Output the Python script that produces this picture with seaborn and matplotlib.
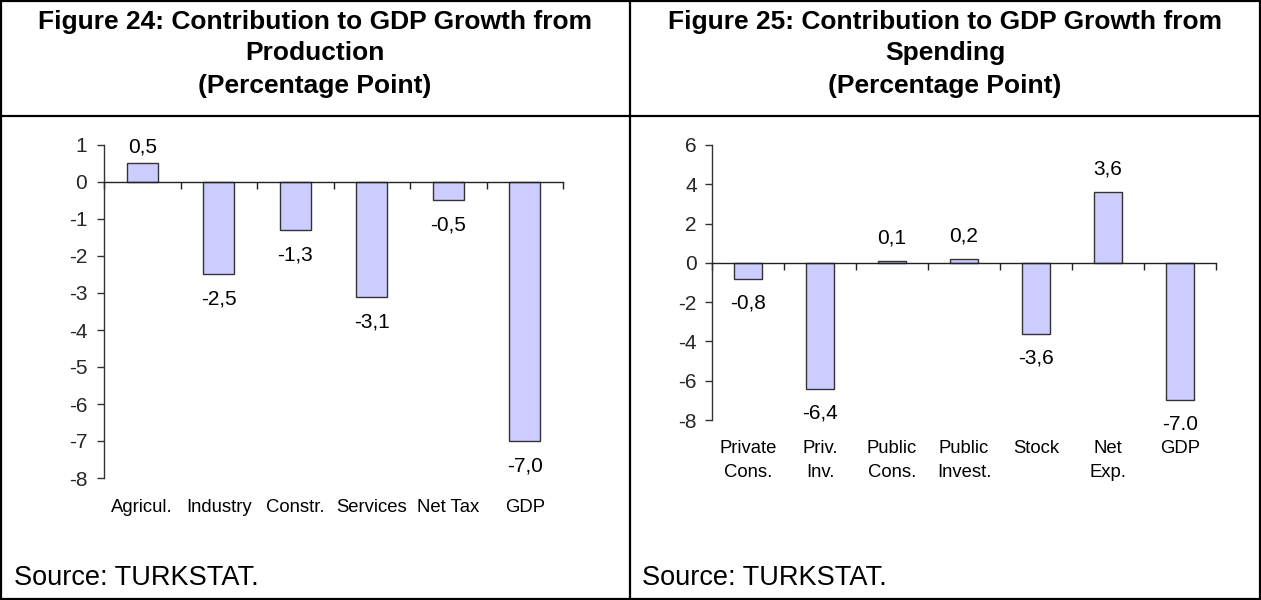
import numpy as np
import matplotlib
matplotlib.use("Agg")
import matplotlib.pyplot as plt
import matplotlib.transforms as mtransforms
from matplotlib.lines import Line2D
import seaborn as sns

# ---------------- data ----------------
prod_categories = ["Agricul.", "Industry", "Constr.", "Services", "Net Tax", "GDP"]
prod_values = [0.5, -2.5, -1.3, -3.1, -0.5, -7.0]
prod_labels = ["0,5", "-2,5", "-1,3", "-3,1", "-0,5", "-7,0"]
prod_yticks = [1, 0, -1, -2, -3, -4, -5, -6, -7, -8]

spend_categories = ["Private\nCons.", "Priv.\nInv.", "Public\nCons.", "Public\nInvest.",
                    "Stock", "Net\nExp.", "GDP"]
spend_values = [-0.8, -6.4, 0.1, 0.2, -3.6, 3.6, -7.0]
spend_labels = ["-0,8", "-6,4", "0,1", "0,2", "-3,6", "3,6", "-7.0"]
spend_yticks = [6, 4, 2, 0, -2, -4, -6, -8]

title_left = ["Figure 24: Contribution to GDP Growth from", "Production", "(Percentage Point)"]
title_right = ["Figure 25: Contribution to GDP Growth from", "Spending", "(Percentage Point)"]
source_text = "Source: TURKSTAT."

# ---------------- style ----------------
sns.set_theme(style="white")
plt.rcParams["font.family"] = ["Liberation Sans", "DejaVu Sans"]
plt.rcParams["axes.unicode_minus"] = False

W, H = 1261, 600
fig = plt.figure(figsize=(W / 100, H / 100), dpi=100)
fig.patch.set_facecolor("white")


def fx(px):
    return px / W


def fy(py):
    return 1 - py / H


BAR = "#CCCCFF"
EDGE = "#333333"


def make_chart(rect_px, cats, vals, labels, yticks, ylim, above_px, below_px,
               ytick_pad, xlabel_y):
    x0, y0, x1, y1 = rect_px
    ax = fig.add_axes([fx(x0), fy(y1), fx(x1) - fx(x0), (y1 - y0) / H])
    sns.barplot(x=cats, y=vals, order=cats, color=BAR, saturation=1,
                edgecolor=EDGE, linewidth=1.0, width=0.4, ax=ax)
    ax.set_facecolor("none")
    ax.set_xlim(-0.5, len(cats) - 0.5)
    ax.set_ylim(*ylim)
    ax.set_yticks(yticks)
    ax.set_yticklabels([str(t) for t in yticks])
    ax.set_xlabel("")
    ax.set_ylabel("")
    for s in ["top", "right"]:
        ax.spines[s].set_visible(False)
    ax.spines["left"].set_color("#333333")
    ax.spines["left"].set_linewidth(1.0)
    ax.spines["bottom"].set_position(("data", 0))
    ax.spines["bottom"].set_color("#222222")
    ax.spines["bottom"].set_linewidth(1.0)
    ax.tick_params(axis="y", direction="out", length=5, width=1, color="#333333",
                   labelsize=15, pad=ytick_pad, left=True)
    ax.tick_params(axis="x", which="major", length=0, labelbottom=False, bottom=False)
    ax.set_xticks(np.arange(len(cats) + 1) - 0.5, minor=True)
    ax.tick_params(axis="x", which="minor", direction="out", length=5, width=1,
                   color="#222222", bottom=True)
    ax.grid(False)
    # data labels
    for i, (v, lab) in enumerate(zip(vals, labels)):
        off = above_px if v >= 0 else -below_px
        ax.annotate(lab, xy=(i, v), xytext=(0, off * 72 / 100),
                    textcoords="offset points", ha="center", va="center",
                    fontsize=15, color="black")
    # category labels
    trans = mtransforms.blended_transform_factory(ax.transData, fig.transFigure)
    for i, c in enumerate(cats):
        ax.text(i, fy(xlabel_y), c, transform=trans, ha="center", va="top",
                fontsize=13.3, color="black", linespacing=1.55)
    return ax


make_chart((104, 145, 563, 478), prod_categories, prod_values, prod_labels,
           prod_yticks, (-8, 1), 16, 25, 7, 499)
make_chart((712, 145, 1216, 420), spend_categories, spend_values, spend_labels,
           spend_yticks, (-8, 6), 23, 24, 6, 440)

# titles
for lines, cx in [(title_left, 315), (title_right, 945)]:
    for txt, cy in zip(lines, [22, 53, 86]):
        fig.text(fx(cx), fy(cy), txt, ha="center", va="center", fontsize=19,
                 fontweight="bold", color="black")

# source
fig.text(fx(14), fy(578), source_text, ha="left", va="center", fontsize=19.5, color="black")
fig.text(fx(642), fy(578), source_text, ha="left", va="center", fontsize=19.5, color="black")

# table borders
lw = 1.6
def hline(y, xa, xb):
    fig.add_artist(Line2D([fx(xa), fx(xb)], [fy(y), fy(y)], color="black", lw=lw,
                          transform=fig.transFigure))
def vline(x, ya, yb):
    fig.add_artist(Line2D([fx(x), fx(x)], [fy(ya), fy(yb)], color="black", lw=lw,
                          transform=fig.transFigure))

hline(1, 0, W)
hline(116, 0, W)
hline(598.5, 0, W)
vline(1, 0, H)
vline(630, 0, H)
vline(1259.5, 0, H)

fig.savefig("out.png", dpi=100, facecolor="white")
